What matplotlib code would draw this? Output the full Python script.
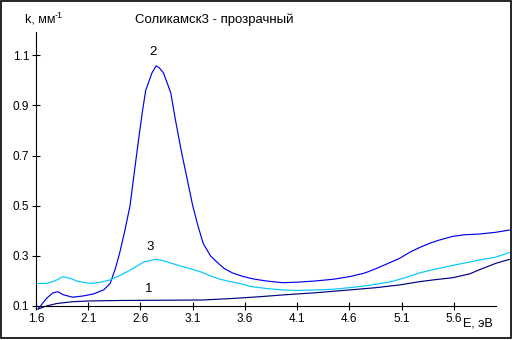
import matplotlib
matplotlib.use("Agg")
import matplotlib.pyplot as plt
from matplotlib.patches import Rectangle

plt.rcParams['font.family'] = ['Liberation Sans', 'DejaVu Sans']

# кривая 2 (синяя)
e2 = [1.62, 1.70, 1.76, 1.81, 1.86, 1.95, 2.05, 2.15, 2.25, 2.31, 2.36, 2.40,
      2.45, 2.50, 2.54, 2.59, 2.62, 2.65, 2.71, 2.75, 2.78, 2.82, 2.89, 2.94,
      2.99, 3.05, 3.10, 3.15, 3.20, 3.27, 3.33, 3.40, 3.48, 3.58, 3.68, 3.80,
      3.96, 4.10, 4.28, 4.45, 4.60, 4.75, 4.86, 4.97, 5.08, 5.18, 5.28, 5.38,
      5.46, 5.59, 5.70, 5.84, 6.00, 6.13]
k2 = [0.088, 0.13, 0.152, 0.157, 0.145, 0.135, 0.14, 0.148, 0.165, 0.19, 0.25, 0.31,
      0.40, 0.50, 0.63, 0.79, 0.88, 0.96, 1.03, 1.058, 1.05, 1.03, 0.95, 0.83,
      0.72, 0.60, 0.50, 0.42, 0.35, 0.30, 0.276, 0.25, 0.232, 0.218, 0.208, 0.20,
      0.193, 0.195, 0.20, 0.207, 0.217, 0.232, 0.25, 0.27, 0.29, 0.315, 0.335, 0.352,
      0.363, 0.378, 0.384, 0.387, 0.394, 0.403]

# кривая 3 (голубая)
e3 = [1.62, 1.70, 1.78, 1.86, 1.93, 2.00, 2.12, 2.22, 2.31, 2.42, 2.53, 2.63,
      2.74, 2.80, 2.90, 2.98, 3.08, 3.17, 3.26, 3.36, 3.45, 3.55, 3.65, 3.80,
      3.96, 4.10, 4.28, 4.45, 4.60, 4.80, 5.00, 5.15, 5.27, 5.40, 5.59, 5.84, 6.00, 6.13]
k3 = [0.19, 0.19, 0.20, 0.217, 0.21, 0.198, 0.19, 0.195, 0.204, 0.225, 0.25, 0.275,
      0.286, 0.283, 0.27, 0.26, 0.248, 0.237, 0.222, 0.207, 0.198, 0.19, 0.178, 0.17,
      0.164, 0.162, 0.164, 0.167, 0.173, 0.183, 0.197, 0.215, 0.232, 0.245, 0.262, 0.283, 0.295, 0.313]

# кривая 1 (тёмно-синяя)
e1 = [1.62, 1.70, 1.80, 1.95, 2.10, 2.40, 2.80, 3.20, 3.48, 3.74, 3.96, 4.28,
      4.60, 4.85, 5.08, 5.27, 5.40, 5.59, 5.75, 5.84, 5.92, 6.00, 6.13]
k1 = [0.088, 0.10, 0.11, 0.117, 0.12, 0.122, 0.123, 0.124, 0.13, 0.137, 0.144, 0.153,
      0.164, 0.173, 0.184, 0.197, 0.204, 0.213, 0.228, 0.244, 0.257, 0.27, 0.286]

xticks = [1.6, 2.1, 2.6, 3.1, 3.6, 4.1, 4.6, 5.1, 5.6]
yticks = [0.1, 0.3, 0.5, 0.7, 0.9, 1.1]

fig = plt.figure(figsize=(5.12, 3.4), dpi=100)
ax = fig.add_axes([36 / 512, 34 / 340, 459.7 / 512, 274 / 340])

ax.plot(e2, k2, color='#0000f0', lw=0.85, clip_on=False)
ax.plot(e3, k3, color='#00c8ff', lw=0.85, clip_on=False)
ax.plot(e1, k1, color='#000080', lw=0.85, clip_on=False)

ax.set_xlim(1.6, 6.0)
ax.set_ylim(0.1, 1.193)
ax.set_xticks(xticks)
ax.set_xticklabels([f'{v:.1f}' for v in xticks])
ax.set_yticks(yticks)
ax.set_yticklabels([f'{v:.1f}' for v in yticks])
ax.tick_params(direction='inout', length=6, width=0.8, labelsize=8.5, pad=2)
for s in ['top', 'right']:
    ax.spines[s].set_visible(False)
for s in ['left', 'bottom']:
    ax.spines[s].set_linewidth(0.8)

# подписи кривых
ax.text(2.716, 1.115, '2', fontsize=9.5, ha='center', va='center')
ax.text(2.69, 0.337, '3', fontsize=9.5, ha='center', va='center')
ax.text(2.68, 0.168, '1', fontsize=9.5, ha='center', va='center')

fig.text(135 / 512, 1 - 20 / 340, 'Соликамск3 - прозрачный', fontsize=9.5, va='center')
fig.text(25 / 512, 1 - 20 / 340, 'k, мм', fontsize=9, va='center')
fig.text(55 / 512, 1 - 16 / 340, '-1', fontsize=6.5, va='center')
fig.text(463 / 512, 1 - 323 / 340, 'E, эВ', fontsize=9, va='center')

# рамка вокруг рисунка
fig.patches.append(Rectangle((1 / 512, 2 / 340), 509.5 / 512, 337 / 340,
                             transform=fig.transFigure, fill=False,
                             edgecolor='black', lw=1.2))

fig.savefig('out.png', dpi=100)
